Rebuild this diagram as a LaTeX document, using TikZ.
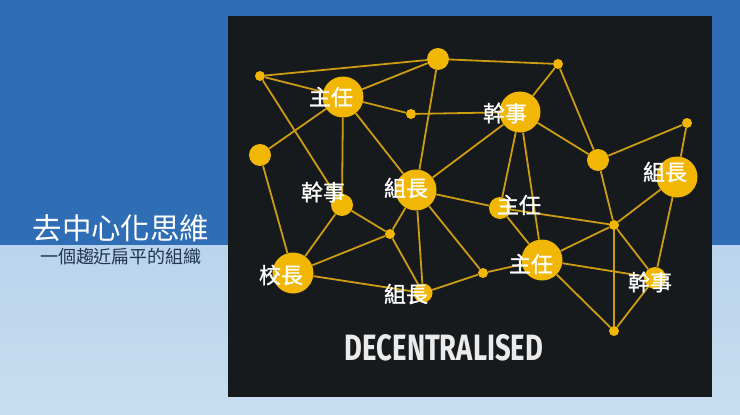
\documentclass[tikz,border=0pt]{standalone}
\usepackage{fontspec}
\newfontfamily\cjk{Noto Sans CJK TC}
\newfontfamily\cjktag[FakeBold=1.2]{Noto Sans CJK TC}
\newfontfamily\decofont{Fira Sans}
\definecolor{slideblue}{HTML}{2F6EB4}
\definecolor{paleblue}{HTML}{B9D4EC}
\definecolor{paleblueb}{HTML}{C8DDF0}
\definecolor{panelgrey}{HTML}{161A1C}
\definecolor{nodegold}{HTML}{F2B705}
\definecolor{netgold}{HTML}{CC9C12}
\definecolor{subnavy}{HTML}{22364F}

\begin{document}
\begin{tikzpicture}[x=1pt, y=-1pt,
    edge/.style={draw=netgold, line width=1.8pt},
    bignode/.style={circle, fill=nodegold, minimum size=41pt, inner sep=0pt},
    midnode/.style={circle, fill=nodegold, minimum size=22pt, inner sep=0pt},
    smallnode/.style={circle, fill=nodegold, minimum size=10pt, inner sep=0pt},
    tag/.style={text=white, inner sep=0pt, font=\cjktag\fontsize{22}{22}\selectfont}]
        % background
        \useasboundingbox (0,0) rectangle (740,415);
        \fill[slideblue] (0,0) rectangle (740,245);
        \shade[top color=paleblue, bottom color=paleblueb] (0,245) rectangle (740,415);
        \fill[panelgrey] (228,16) rectangle (712,397);

        % title
        \node[text=white, font=\cjk\fontsize{29.5}{29.5}\selectfont, inner sep=0pt] (title) at (121,228) {去中心化思維};
        \node[text=subnavy, font=\cjk\fontsize{18}{18}\selectfont, inner sep=0pt] (subtitle) at (121,257) {一個趨近扁平的組織};

        % network
        \node[smallnode] (a) at (260,76) {};
        \node[midnode] (b) at (438,59) {};
        \node[bignode] (c) at (343,97) {};
        \node[smallnode] (d) at (411,114) {};
        \node[smallnode] (e) at (558,64) {};
        \node[bignode] (f) at (520,112) {};
        \node[midnode] (g) at (260,155) {};
        \node[midnode] (h) at (342,205) {};
        \node[bignode] (i) at (416,190) {};
        \node[midnode] (j) at (598,160) {};
        \node[smallnode] (k) at (687,123) {};
        \node[bignode] (l) at (677,177) {};
        \node[midnode] (m) at (500,208) {};
        \node[smallnode] (n) at (390,234) {};
        \node[smallnode] (o) at (614,225) {};
        \node[bignode] (p) at (293,273) {};
        \node[midnode, minimum size=19pt] (q) at (423,293) {};
        \node[smallnode] (r) at (483,273) {};
        \node[bignode] (s) at (542,260) {};
        \node[midnode] (t) at (655,278) {};
        \node[smallnode] (u) at (614,331) {};

        \foreach \from/\to in {a/b, a/c, a/h, b/c, b/e, b/i, c/d, c/g, c/h, c/i,
            d/f, e/f, e/j, f/j, f/i, f/m, f/s, g/p, h/p, h/n, i/n, i/q, i/r, i/m,
            n/p, n/q, p/q, q/r, r/s, m/o, m/s, j/k, j/o, k/l, l/o, l/t,
            o/s, o/t, o/u, s/t, s/u, t/u}
            \draw[edge] (\from) -- (\to);

        % labels
        \node[tag] (tc) at (331,97) {主任};
        \node[tag] (tf) at (505,113) {幹事};
        \node[tag] (th) at (323,192) {幹事};
        \node[tag] (ti) at (406,188) {組長};
        \node[tag] (tl) at (665,172) {組長};
        \node[tag] (tm) at (519,205) {主任};
        \node[tag] (ts) at (531,264) {主任};
        \node[tag] (tt) at (650,282) {幹事};
        \node[tag] (tp) at (281,275) {校長};
        \node[tag] (tq) at (406,294) {組長};

        \node[text=white!92!black, inner sep=0pt, anchor=base] (deco) at (444,360)
            {\resizebox{198pt}{26pt}{\decofont\fontseries{sb}\selectfont DECENTRALISED}};
      \end{tikzpicture}
\end{document}
